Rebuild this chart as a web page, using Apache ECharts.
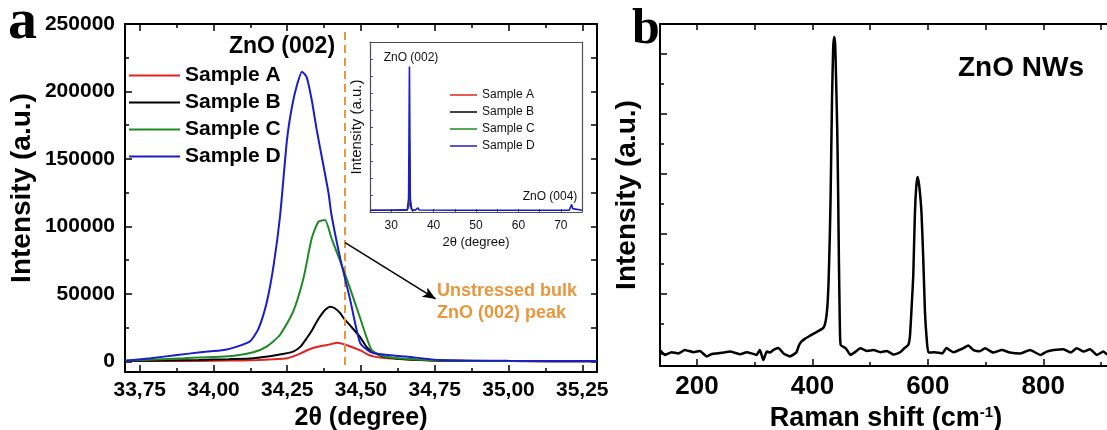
<!DOCTYPE html>
<html>
<head>
<meta charset="utf-8">
<script src="https://cdn.jsdelivr.net/npm/echarts@6/dist/echarts.min.js"></script>
<style>html,body{margin:0;padding:0;background:#fff}#c{width:1107px;height:430px}</style>
</head>
<body>
<div id="c"></div>
<script>
// ---------- DATA ----------
const sampleNames = ['Sample A', 'Sample B', 'Sample C', 'Sample D'];
const sampleColors = ['#e3231f', '#000000', '#1e8a26', '#1c1cc8'];

// Panel a, main plot: [2theta (deg), intensity (a.u.)]
const mainA = [[33.70,300],[33.90,350],[34.00,500],[34.10,800],[34.15,1100],[34.20,1600],[34.25,2400],[34.27,3800],[34.295,6000],[34.32,8500],[34.34,10200],[34.365,11500],[34.385,12200],[34.40,13000],[34.42,13900],[34.45,12200],[34.475,10200],[34.50,8000],[34.52,5500],[34.545,3600],[34.59,2400],[34.70,1100],[34.85,500],[35.00,300],[35.30,200]];
const mainB = [[33.70,300],[33.95,1100],[34.05,1700],[34.135,2400],[34.215,4800],[34.27,7300],[34.295,11000],[34.316,17200],[34.335,23500],[34.35,29500],[34.365,34500],[34.378,38100],[34.395,40600],[34.41,39600],[34.43,35700],[34.44,32500],[34.47,25000],[34.497,18000],[34.52,10500],[34.54,7300],[34.575,3600],[34.65,1600],[34.77,600],[35.00,300],[35.30,200]];
const mainC = [[33.70,500],[33.90,2400],[34.07,4300],[34.135,6800],[34.18,11000],[34.225,19600],[34.27,36900],[34.305,61600],[34.333,91200],[34.356,103600],[34.378,104800],[34.40,91200],[34.43,74000],[34.46,56000],[34.497,32200],[34.536,8500],[34.574,4000],[34.632,2200],[34.77,700],[35.00,300],[35.30,200]];
const mainD = [[33.70,600],[33.787,2400],[33.877,4800],[33.956,6800],[34.035,8500],[34.08,11000],[34.125,15200],[34.153,24600],[34.181,44300],[34.204,71500],[34.226,108500],[34.249,164000],[34.266,188700],[34.283,204800],[34.30,214700],[34.316,210500],[34.333,193700],[34.35,171500],[34.367,151700],[34.39,124600],[34.40,108500],[34.43,76000],[34.463,46000],[34.497,13700],[34.53,7300],[34.56,5500],[34.654,3600],[34.767,1100],[35.00,500],[35.30,300]];

// Panel a, inset (wide scan); A-C lie under D apart from their (002) peaks
const insetA = [[25,2500],[33.8,2500],[34.2,5000],[34.42,14000],[34.6,5000],[35,2500],[35.5,2500]];
const insetB = [[25,2500],[33.8,2500],[34.2,8000],[34.4,40600],[34.6,8000],[35,2500],[35.5,2500]];
const insetC = [[25,2500],[33.8,3000],[34.15,15000],[34.37,104800],[34.6,15000],[35,2500],[35.5,2500]];
const insetD = [[25,2500],[30,2500],[33.8,3500],[34.1,20000],[34.3,214000],[34.5,20000],[34.8,3500],[35.6,2500],[36.0,3000],[36.3,6000],[36.6,3000],[37.0,2500],[45,2500],[56,2500],[62.6,2500],[62.9,4500],[63.2,2500],[72.0,2500],[72.3,5000],[72.55,11000],[72.8,5000],[73.1,2500],[75,2500]];

// Panel b: Raman spectrum [shift (cm-1), intensity (a.u.)]
const raman = [[136,0.13],[145,-0.03],[156,0.06],[168,0.02],[179,0.13],[186,0.1],[194,0.06],[205,0.1],[217,-0.08],[226,0.0],[234,0.02],[246,0.05],[257,0.08],[266,0.04],[275,-0.01],[286,0.06],[295,0.02],[303,-0.03],[309,0.13],[315,-0.2],[321,0.08],[327,0.05],[332,0.13],[341,0.2],[350,0.02],[361,-0.08],[370,0.02],[373,0.08],[377,0.3],[381,0.41],[388,0.52],[396,0.61],[407,0.73],[419,0.87],[423,1.1],[426,1.6],[428,2.4],[430,3.8],[431.5,5.2],[434,8.5],[436,10.2],[437.8,10.57],[439.5,10.3],[441,9.2],[443,7.5],[444.5,5.5],[446,3.0],[447.5,1.0],[449,0.3],[458,0.19],[466,-0.03],[475,0.08],[483,0.19],[495,0.1],[506,0.13],[518,0.06],[529,0.1],[541,-0.02],[552,0.06],[559,0.19],[566,0.3],[569,0.6],[572,1.6],[574.7,2.6],[577.6,4.7],[580,5.6],[582.2,5.9],[584,5.75],[586.2,5.4],[589,4.7],[592,3.2],[595,1.4],[598,0.5],[601,0.05],[612,0.06],[625,0.02],[632,0.2],[644,0.06],[661,0.19],[670,0.28],[679,0.13],[690,0.09],[699,0.19],[713,0.05],[728,0.13],[742,0.05],[760,0.02],[777,0.13],[795,-0.03],[806,0.08],[818,0.13],[835,0.16],[847,0.05],[858,0.19],[870,0.08],[881,0.16],[893,-0.03],[904,0.08],[911,-0.01],[919,0.05]];

// Tick positions
const mainXMajor = [33.75,34.00,34.25,34.50,34.75,35.00,35.25];
const mainXMinor = [33.875,34.125,34.375,34.625,34.875,35.125];
const mainYMajor = [0,50000,100000,150000,200000,250000];
const mainYMinor = [25000,75000,125000,175000,225000];
const mainYAll = [0,25000,50000,75000,100000,125000,150000,175000,200000,225000,250000];
const ramanXMajor = [200,400,600,800];
const ramanXMinor = [300,500,700,900];
const ramanXAll = [200,300,400,500,600,700,800,900];
const ramanYMajor = [0,2,4,6,8,10];
const ramanYMinor = [1,3,5,7,9,11];

// ---------- CHART ----------
const F = '"Liberation Sans", Arial, Helvetica, sans-serif';
const SERIF = '"Liberation Serif", "Times New Roman", serif';
const ORANGE = '#e9973d';
const INSET = '#4d4d5c';

function tickAxis(extra) {
  return Object.assign({
    type: 'value', splitLine: {show: false},
    axisLine: {show: false, onZero: false},
    axisLabel: {show: false},
    axisTick: {show: true, inside: true, length: 4, lineStyle: {color: '#000', width: 1.5}}
  }, extra);
}

const chart = echarts.init(document.getElementById('c'), null, {renderer: 'canvas'});
const commaFmt = v => v.toFixed(2).replace('.', ',');

const option = {
  animation: false,
  backgroundColor: '#fff',
  grid: [
    {left: 125, top: 24, width: 472, height: 348, outerBoundsMode: 'none'},
    {left: 370, top: 42, width: 212, height: 170, outerBoundsMode: 'none'},
    {left: 660, top: 24, width: 452, height: 342, outerBoundsMode: 'none'}
  ],
  xAxis: [
    {gridIndex: 0, type: 'value', position: 'bottom', min: 33.70, max: 35.30,
     axisLine: {show: true, onZero: false, lineStyle: {color: '#000', width: 2}},
     axisTick: {show: true, inside: true, length: 7, customValues: mainXMajor, lineStyle: {color: '#000', width: 1.5}},
     axisLabel: {show: true, customValues: mainXMajor, formatter: commaFmt, margin: 8,
                 fontFamily: F, fontWeight: 'bold', fontSize: 21, color: '#000'},
     splitLine: {show: false},
     name: '2θ (degree)', nameLocation: 'middle', nameGap: 30,
     nameTextStyle: {fontFamily: F, fontWeight: 'bold', fontSize: 25, color: '#000'}},
    tickAxis({gridIndex: 0, position: 'bottom', min: 33.70, max: 35.30,
      axisTick: {show: true, inside: true, length: 4, customValues: mainXMinor, lineStyle: {color: '#000', width: 1.5}}}),
    tickAxis({gridIndex: 0, position: 'top', min: 33.70, max: 35.30,
      axisLine: {show: true, onZero: false, lineStyle: {color: '#000', width: 2}},
      axisTick: {show: true, inside: true, length: 7, customValues: mainXMajor, lineStyle: {color: '#000', width: 1.5}}}),
    tickAxis({gridIndex: 0, position: 'top', min: 33.70, max: 35.30,
      axisTick: {show: true, inside: true, length: 4, customValues: mainXMinor, lineStyle: {color: '#000', width: 1.5}}}),
    {gridIndex: 1, type: 'value', position: 'bottom', min: 25, max: 75, interval: 5,
     axisLine: {show: true, onZero: false, lineStyle: {color: INSET, width: 1.2}},
     axisTick: {show: true, inside: true, length: 3, lineStyle: {color: INSET, width: 1}},
     axisLabel: {show: true, margin: 8, formatter: v => (v % 10 === 0 && v > 25 && v < 75) ? String(v) : '',
                 fontFamily: F, fontSize: 12, color: '#111'},
     splitLine: {show: false},
     name: '2θ (degree)', nameLocation: 'middle', nameGap: 24,
     nameTextStyle: {fontFamily: F, fontSize: 13, color: '#111'}},
    tickAxis({gridIndex: 1, position: 'top', min: 25, max: 75,
      axisLine: {show: true, onZero: false, lineStyle: {color: INSET, width: 1.2}},
      axisTick: {show: false}}),
    {gridIndex: 2, type: 'value', position: 'bottom', min: 136, max: 919,
     axisLine: {show: true, onZero: false, lineStyle: {color: '#000', width: 2}},
     axisTick: {show: true, inside: true, length: 7, customValues: ramanXMajor, lineStyle: {color: '#000', width: 1.5}},
     axisLabel: {show: true, customValues: ramanXMajor, margin: 8,
                 fontFamily: F, fontWeight: 'bold', fontSize: 26, color: '#000'},
     splitLine: {show: false},
     name: 'Raman shift (cm{sup|-1})', nameLocation: 'middle', nameGap: 37,
     nameTextStyle: {fontFamily: F, fontWeight: 'bold', fontSize: 27, color: '#000', lineHeight: 27,
       rich: {sup: {fontFamily: F, fontWeight: 'bold', fontSize: 15, color: '#000', verticalAlign: 'top', lineHeight: 27, padding: [0, 0, 12, 0]}}}},
    tickAxis({gridIndex: 2, position: 'bottom', min: 136, max: 919,
      axisTick: {show: true, inside: true, length: 4, customValues: ramanXMinor, lineStyle: {color: '#000', width: 1.5}}}),
    tickAxis({gridIndex: 2, position: 'top', min: 136, max: 919,
      axisLine: {show: true, onZero: false, lineStyle: {color: '#000', width: 2}},
      axisTick: {show: true, inside: true, length: 6, customValues: ramanXAll, lineStyle: {color: '#000', width: 1.5}}})
  ],
  yAxis: [
    {gridIndex: 0, type: 'value', position: 'left', min: -7800, max: 250000,
     axisLine: {show: true, onZero: false, lineStyle: {color: '#000', width: 2}},
     axisTick: {show: true, inside: true, length: 7, customValues: mainYMajor, lineStyle: {color: '#000', width: 1.5}},
     axisLabel: {show: true, customValues: mainYMajor, margin: 10, formatter: v => String(v),
                 fontFamily: F, fontWeight: 'bold', fontSize: 21, color: '#000'},
     splitLine: {show: false},
     name: 'Intensity (a.u.)', nameLocation: 'middle', nameGap: 89,
     nameTextStyle: {fontFamily: F, fontWeight: 'bold', fontSize: 28, color: '#000', padding: [0, 0, 0, 20]}},
    tickAxis({gridIndex: 0, position: 'left', min: -7800, max: 250000,
      axisTick: {show: true, inside: true, length: 4, customValues: mainYMinor, lineStyle: {color: '#000', width: 1.5}}}),
    tickAxis({gridIndex: 0, position: 'right', min: -7800, max: 250000,
      axisLine: {show: true, onZero: false, lineStyle: {color: '#000', width: 2}},
      axisTick: {show: true, inside: true, length: 6, customValues: mainYAll, lineStyle: {color: '#000', width: 1.5}}}),
    {gridIndex: 1, type: 'value', position: 'left', min: 0, max: 250000, interval: 25000,
     axisLine: {show: true, onZero: false, lineStyle: {color: INSET, width: 1.2}},
     axisTick: {show: true, inside: true, length: 3, lineStyle: {color: INSET, width: 1}},
     axisLabel: {show: false}, splitLine: {show: false},
     name: 'Intensity (a.u.)', nameLocation: 'middle', nameGap: 6,
     nameTextStyle: {fontFamily: F, fontSize: 15, color: '#111'}},
    tickAxis({gridIndex: 1, position: 'right', min: 0, max: 250000,
      axisLine: {show: true, onZero: false, lineStyle: {color: INSET, width: 1.2}},
      axisTick: {show: false}}),
    {gridIndex: 2, type: 'value', position: 'left', min: -0.4, max: 11,
     axisLine: {show: true, onZero: false, lineStyle: {color: '#000', width: 2}},
     axisTick: {show: true, inside: true, length: 7, customValues: ramanYMajor, lineStyle: {color: '#000', width: 1.5}},
     axisLabel: {show: false}, splitLine: {show: false},
     name: 'Intensity (a.u.)', nameLocation: 'middle', nameGap: 19,
     nameTextStyle: {fontFamily: F, fontWeight: 'bold', fontSize: 28, color: '#000'}},
    tickAxis({gridIndex: 2, position: 'left', min: -0.4, max: 11,
      axisTick: {show: true, inside: true, length: 4, customValues: ramanYMinor, lineStyle: {color: '#000', width: 1.5}}})
  ],
  legend: [
    {data: sampleNames, orient: 'vertical', left: 129, top: 65, padding: 0, itemGap: 6,
     icon: 'rect', itemWidth: 51, itemHeight: 2, selectedMode: false,
     textStyle: {fontFamily: F, fontWeight: 'bold', fontSize: 21, color: '#000', lineHeight: 21}},
    {data: sampleNames, orient: 'vertical', left: 450, top: 89, padding: 0, itemGap: 5,
     icon: 'rect', itemWidth: 27, itemHeight: 1.5, selectedMode: false,
     textStyle: {fontFamily: F, fontSize: 12, color: '#111', lineHeight: 12}}
  ],
  series: [],
  graphic: [
    {type: 'text', left: 8, top: -6, style: {text: 'a', font: 'bold 58px ' + SERIF, fill: '#000'}},
    {type: 'text', left: 632, top: 5, style: {text: 'b', font: 'bold 50px ' + SERIF, fill: '#000'}},
    {type: 'text', style: {text: 'ZnO (002)', x: 282, y: 47, align: 'center', verticalAlign: 'middle', font: 'bold 23px ' + F, fill: '#000'}},
    {type: 'text', style: {text: 'Unstressed bulk', x: 437, y: 291, align: 'left', verticalAlign: 'middle', font: 'bold 18px ' + F, fill: ORANGE}},
    {type: 'text', style: {text: 'ZnO (002) peak', x: 437, y: 313, align: 'left', verticalAlign: 'middle', font: 'bold 18px ' + F, fill: ORANGE}},
    {type: 'text', style: {text: 'ZnO (002)', x: 411, y: 58, align: 'center', verticalAlign: 'middle', font: '12px ' + F, fill: '#111'}},
    {type: 'text', style: {text: 'ZnO (004)', x: 550, y: 197, align: 'center', verticalAlign: 'middle', font: '12px ' + F, fill: '#111'}},
    {type: 'text', style: {text: 'ZnO NWs', x: 958, y: 68, align: 'left', verticalAlign: 'middle', font: 'bold 28px ' + F, fill: '#000'}}
  ]
};

const mainSets = [mainA, mainB, mainC, mainD];
const insetSets = [insetA, insetB, insetC, insetD];
mainSets.forEach((d, i) => {
  const s = {name: sampleNames[i], type: 'line', xAxisIndex: 0, yAxisIndex: 0, data: d,
    showSymbol: false, smooth: 0.2, color: sampleColors[i], lineStyle: {width: 2, color: sampleColors[i]}, z: 3 + i};
  if (i === 3) {
    s.markLine = {
      silent: true, animation: false, label: {show: false}, symbol: ['none', 'none'],
      data: [
        [{coord: [34.445, 244000], lineStyle: {color: ORANGE, width: 2, type: [8, 5]}}, {coord: [34.445, -6300]}],
        [{coord: [34.446, 88000], symbol: 'none', lineStyle: {color: '#000', width: 1.5, type: 'solid'}},
         {coord: [34.753, 46300], symbol: 'arrow', symbolSize: [8, 13]}]
      ]
    };
  }
  option.series.push(s);
});
insetSets.forEach((d, i) => {
  option.series.push({name: sampleNames[i], type: 'line', xAxisIndex: 4, yAxisIndex: 3, data: d,
    showSymbol: false, color: sampleColors[i],
    lineStyle: {width: i === 3 ? 1.6 : 0.8, color: sampleColors[i]}, z: 3 + i});
});
option.series.push({name: 'Raman', type: 'line', xAxisIndex: 6, yAxisIndex: 5, data: raman,
  showSymbol: false, smooth: 0.15, color: '#000', lineStyle: {width: 2.5, color: '#000'}});

chart.setOption(option);
</script>
</body>
</html>
